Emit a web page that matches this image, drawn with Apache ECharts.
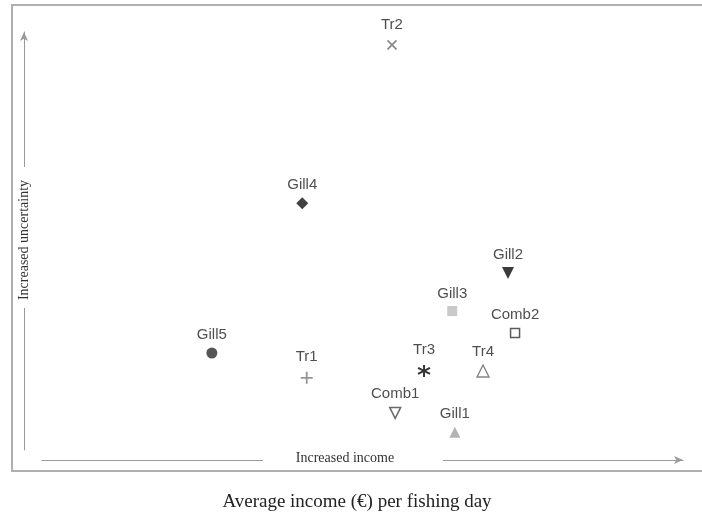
<!DOCTYPE html>
<html>
<head>
<meta charset="utf-8">
<script src="https://cdn.jsdelivr.net/npm/echarts@6/dist/echarts.min.js"></script>
<style>html,body{margin:0;padding:0;background:#fff;}#c{width:702px;height:517px;}</style>
</head>
<body>
<div id="c"></div>
<script>
// Strategy names and their relative positions (income index, uncertainty index; 0-100)
var names       = ['Tr2', 'Gill4', 'Gill2', 'Gill3', 'Comb2', 'Gill5', 'Tr1', 'Tr3', 'Tr4', 'Comb1', 'Gill1'];
var income      = [54.6, 40.6, 72.7, 64.0, 73.8, 26.5, 41.3, 59.6, 68.8, 55.1, 64.4];
var uncertainty = [97.0, 60.0, 43.7, 34.8, 29.7, 25.0, 19.2, 20.8, 20.8, 11.0, 6.5];

var xAxisName = 'Increased income';
var yAxisName = 'Increased uncertainty';
var bottomTitle = 'Average income (€) per fishing day';

// marker styles keyed by name
var styles = {
  Tr2:   {symbol: 'path://M0,0L10,10M10,0L0,10', size: 9, color: 'none', border: '#6a6a6a', bw: 1.7},
  Gill4: {symbol: 'diamond', size: 12, color: '#111', border: '#111', bw: 0},
  Gill2: {symbol: 'triangle', size: 12, rotate: 180, color: '#0a0a0a', border: '#0a0a0a', bw: 0},
  Gill3: {symbol: 'rect', size: 10, color: '#bbbbbb', border: '#bbbbbb', bw: 0},
  Comb2: {symbol: 'rect', size: 9, color: '#fff', border: '#333', bw: 1.5},
  Gill5: {symbol: 'circle', size: 11, color: '#2a2a2a', border: '#2a2a2a', bw: 0},
  Tr1:   {symbol: 'path://M5,0L5,10M0,5L10,5', size: 12, color: 'none', border: '#7a7a7a', bw: 1.8},
  Tr3:   {symbol: 'path://M5,0L5,10M0.7,2.5L9.3,7.5M0.7,7.5L9.3,2.5', size: 12, color: 'none', border: '#000', bw: 2},
  Tr4:   {symbol: 'triangle', size: 12, color: '#fff', border: '#666', bw: 1.4},
  Comb1: {symbol: 'triangle', size: 11, rotate: 180, color: '#fff', border: '#444', bw: 1.5},
  Gill1: {symbol: 'triangle', size: 11, color: '#a0a0a0', border: '#a0a0a0', bw: 0}
};

var data = names.map(function (n, i) {
  var s = styles[n];
  return {
    name: n,
    value: [income[i], uncertainty[i]],
    symbol: s.symbol,
    symbolSize: s.size,
    symbolRotate: s.rotate || 0,
    itemStyle: {color: s.color, borderColor: s.border, borderWidth: s.bw}
  };
});

var chart = echarts.init(document.getElementById('c'));
chart.setOption({
  backgroundColor: '#fff',
  animation: false,
  grid: [
    {left: 42, right: 19, top: 32, bottom: 57},
    {left: 24, width: 10, top: 32, bottom: 67}
  ],
  xAxis: [
    {
      gridIndex: 0, type: 'value', min: 0, max: 100,
      axisLine: {show: true, lineStyle: {color: '#9a9a9a', width: 1},
        symbol: ['none', 'arrow'], symbolSize: [6, 9]},
      axisTick: {show: false}, axisLabel: {show: false}, splitLine: {show: false}
    },
    {gridIndex: 1, type: 'value', show: false}
  ],
  yAxis: [
    {gridIndex: 0, type: 'value', min: 0, max: 100, show: false},
    {
      gridIndex: 1, type: 'value', min: 0, max: 100,
      axisLine: {show: true, onZero: false, lineStyle: {color: '#9a9a9a', width: 1},
        symbol: ['none', 'arrow'], symbolSize: [6, 9]},
      axisTick: {show: false}, axisLabel: {show: false}, splitLine: {show: false}
    }
  ],
  series: [{
    type: 'scatter',
    xAxisIndex: 0, yAxisIndex: 0,
    data: data,
    label: {
      show: true, position: 'top', distance: 5,
      formatter: '{b}',
      fontFamily: 'Liberation Sans', fontSize: 15, color: '#222'
    }
  }],
  graphic: [
    {type: 'rect', silent: true, z: -1,
      shape: {x: 12, y: 5, width: 700, height: 466},
      style: {fill: 'none', stroke: '#b0b0b0', lineWidth: 2}},
    // gaps in the axis lines for the axis names
    {type: 'rect', silent: true, z: 50,
      shape: {x: 263, y: 454, width: 180, height: 12},
      style: {fill: '#fff'}},
    {type: 'rect', silent: true, z: 50,
      shape: {x: 18, y: 167, width: 12, height: 141},
      style: {fill: '#fff'}},
    {type: 'text', silent: true, z: 60,
      style: {text: xAxisName, x: 345, y: 458, textAlign: 'center', textVerticalAlign: 'middle',
        font: '14px "Liberation Serif"', fill: '#333'}},
    {type: 'text', silent: true, z: 60, x: 24, y: 240, rotation: Math.PI / 2,
      style: {text: yAxisName, x: 0, y: 0, textAlign: 'center', textVerticalAlign: 'middle',
        font: '14px "Liberation Serif"', fill: '#333'}},
    {type: 'text', silent: true,
      style: {text: bottomTitle, x: 357, y: 502, textAlign: 'center', textVerticalAlign: 'middle',
        font: '19px "Liberation Serif"', fill: '#222'}}
  ]
});
</script>
</body>
</html>
